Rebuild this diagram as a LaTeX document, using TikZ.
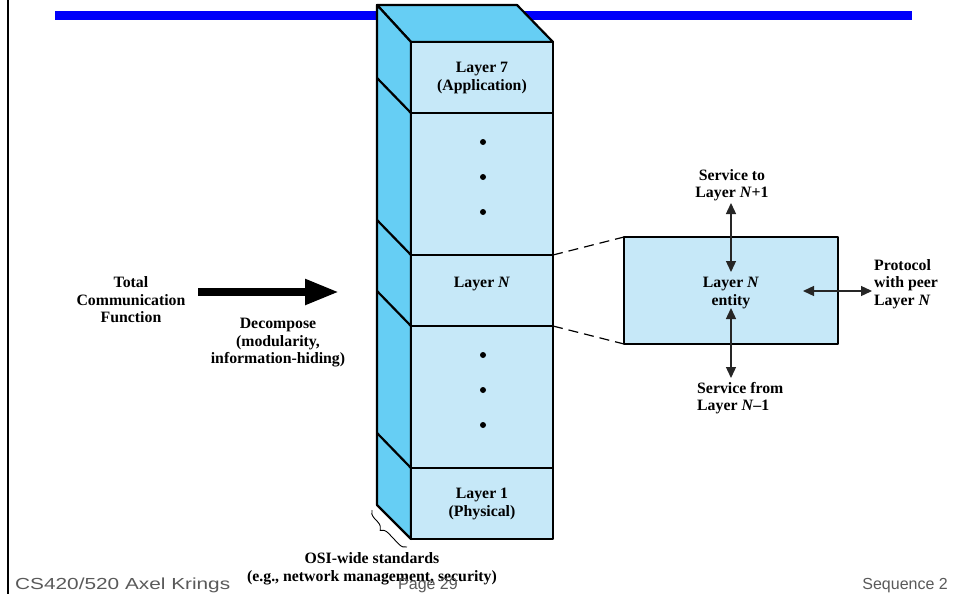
\documentclass[tikz,border=0pt]{standalone}
\usepackage{fontspec}
\setmainfont{Liberation Serif}
\newfontfamily\footfont{Liberation Sans}
\usetikzlibrary{arrows.meta,decorations.pathreplacing}
\definecolor{sideblue}{RGB}{102,206,244}
\definecolor{frontblue}{RGB}{198,232,248}
\definecolor{footgray}{RGB}{90,90,90}
\definecolor{barblue}{RGB}{0,0,250}
\begin{document}
\begin{tikzpicture}[x=1pt,y=-1pt,
  lbl/.style={font=\fontsize{15.8}{17.5}\selectfont\bfseries, align=center, inner sep=0pt},
  face/.style={draw=black, line width=2.2pt, line join=round},
  layerbox/.style={face, fill=frontblue, rectangle, minimum width=142pt, inner sep=0pt, outer sep=0pt},
  dbl/.style={line width=1.3pt, draw=black!85, {Triangle[length=11pt,width=10pt]}-{Triangle[length=11pt,width=10pt]}},
  foot/.style={font=\footfont\fontsize{16}{18}\selectfont, text=footgray, inner sep=0pt},
  dotmark/.style={circle, fill=black, inner sep=0pt, minimum size=6pt}
]
\useasboundingbox (0,0) rectangle (959,594);
\fill[white] (0,0) rectangle (959,594);
% left border and title bar
\draw[line width=2.5pt] (8,0) -- (8,594);
\fill[barblue] (55,11) rectangle (912,20);
% side and top faces
\filldraw[face, fill=sideblue] (377,5) -- (517,5) -- (553,42) -- (411,42) -- cycle;
\filldraw[face, fill=sideblue] (377,5) -- (411,42) -- (411,539) -- (377,505) -- cycle;
\foreach \yy in {113,255,326,468} {
  \draw[face] (377,\yy-35) -- (411,\yy);
}
% front layers
\node[layerbox, minimum height=71pt] (L7) at (482,77.5) {};
\node[layerbox, minimum height=142pt] (Up) at (482,184) {};
\node[layerbox, minimum height=71pt] (LN) at (482,290.5) {};
\node[layerbox, minimum height=142pt] (Lo) at (482,397) {};
\node[layerbox, minimum height=71pt] (L1) at (482,503.5) {};
\node[lbl] (t7) at (482,78) {Layer 7\\(Application)};
\node[lbl] (tN) at (482,284) {Layer \textit{N}};
\node[lbl] (t1) at (482,504) {Layer 1\\(Physical)};
\node[dotmark] (d1) at (483,142) {};
\node[dotmark] (d2) at (483,177) {};
\node[dotmark] (d3) at (483,212) {};
\node[dotmark] (d4) at (483,355) {};
\node[dotmark] (d5) at (483,390) {};
\node[dotmark] (d6) at (483,425) {};
% brace under side face
\coordinate (b1) at (407,547);
\coordinate (b2) at (372,510);
\draw[line width=0.9pt, decorate, decoration={brace, amplitude=8pt, aspect=0.6}] (b1) -- (b2);
\node[lbl] (osi) at (372,569) {OSI-wide standards\\(e.g., network management, security)};
% big arrow
\node[lbl] (tot) at (131,300) {Total\\Communication\\Function};
\node[lbl] (dec) at (278,343) {Decompose\\(modularity,\\information-hiding)};
\coordinate (a1) at (198,292);
\coordinate (a2) at (339,292);
\draw[line width=8pt, -{Triangle[length=34pt,width=24pt]}] (a1) -- (a2);
% entity box
\node[face, fill=frontblue, rectangle, minimum width=214pt, minimum height=107pt, inner sep=0pt, outer sep=0pt] (E) at (731,290.5) {};
\draw[line width=1.2pt, dash pattern=on 10pt off 6pt] (LN.north east) -- (E.north west);
\draw[line width=1.2pt, dash pattern=on 10pt off 6pt] (LN.south east) -- (E.south west);
\node[lbl] (te) at (731,293) {Layer \textit{N}\\entity};
\node[lbl] (sto) at (732,185) {Service to\\Layer \textit{N}+1};
\node[lbl, align=left, anchor=west] (sfr) at (697,398) {Service from\\Layer \textit{N}–1};
\node[lbl, align=left, anchor=west] (pro) at (874,284) {Protocol\\with peer\\Layer \textit{N}};
\coordinate (u1) at (731,203);
\coordinate (u2) at (731,272);
\coordinate (v1) at (731,308);
\coordinate (v2) at (731,378);
\coordinate (h1) at (803,291);
\coordinate (h2) at (872,291);
\draw[dbl] (u1) -- (u2);
\draw[dbl] (v1) -- (v2);
\draw[dbl] (h1) -- (h2);
% footer
\node[foot, anchor=base west] (f1) at (15,589) {\scalebox{1.3}[1]{CS420/520 Axel Krings}};
\node[foot, anchor=base] (f2) at (428,589) {Page 29};
\node[foot, anchor=base east] (f3) at (948,589) {Sequence 2};
\end{tikzpicture}
\end{document}
